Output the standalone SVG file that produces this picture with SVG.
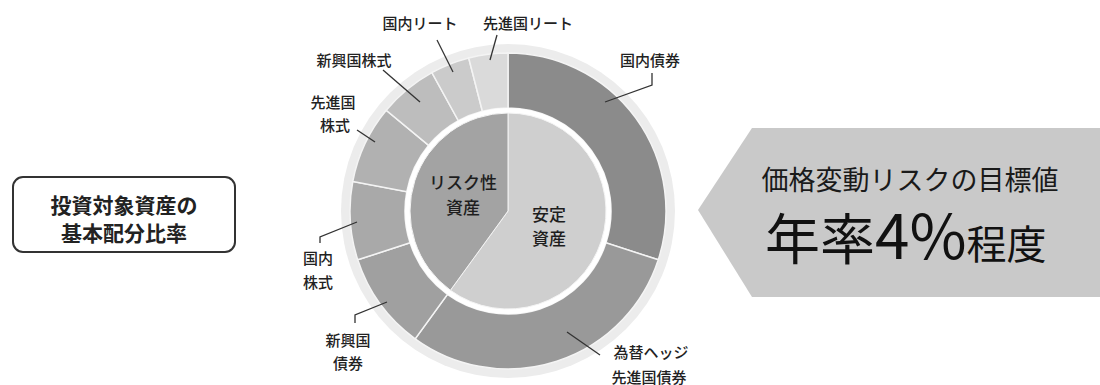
<svg xmlns="http://www.w3.org/2000/svg" width="1100" height="385" viewBox="0 0 1100 385">
<style>
text{font-family:"Noto Sans CJK JP","Noto Sans",sans-serif;fill:#222}
.lbl{font-size:15px;text-anchor:middle;font-weight:500}
.in{font-size:17px;text-anchor:middle;fill:#1e1e1e;font-weight:500}
.seg{stroke:#f4f4f4;stroke-width:1.5}
.ld{stroke:#333;stroke-width:1.3;fill:none}
</style>
<rect width="1100" height="385" fill="#fff"/>
<g id="box">
<rect x="13" y="177" width="222" height="75" rx="10" fill="#fff" stroke="#333" stroke-width="2"/>
<text x="124" y="213" style="font-size:21px;font-weight:bold;text-anchor:middle">投資対象資産の</text>
<text x="124" y="241" style="font-size:21px;font-weight:bold;text-anchor:middle">基本配分比率</text>
</g>
<g id="donut">
<circle cx="508" cy="211" r="167" fill="#ececec"/>
<path class="seg" fill="#8b8b8b" d="M508,53 A158,158 0 0 1 658.27,259.83 L605.96,242.83 A103,103 0 0 0 508,108 Z"/>
<path class="seg" fill="#999999" d="M658.27,259.83 A158,158 0 0 1 415.13,338.83 L447.46,294.33 A103,103 0 0 0 605.96,242.83 Z"/>
<path class="seg" fill="#a0a0a0" d="M415.13,338.83 A158,158 0 0 1 357.73,259.83 L410.04,242.83 A103,103 0 0 0 447.46,294.33 Z"/>
<path class="seg" fill="#a9a9a9" d="M357.73,259.83 A158,158 0 0 1 352.80,181.39 L406.82,191.70 A103,103 0 0 0 410.04,242.83 Z"/>
<path class="seg" fill="#b1b1b1" d="M352.80,181.39 A158,158 0 0 1 386.26,110.29 L428.64,145.35 A103,103 0 0 0 406.82,191.70 Z"/>
<path class="seg" fill="#bdbdbd" d="M386.26,110.29 A158,158 0 0 1 431.88,72.54 L458.38,120.74 A103,103 0 0 0 428.64,145.35 Z"/>
<path class="seg" fill="#cbcbcb" d="M431.88,72.54 A158,158 0 0 1 468.71,57.96 L482.38,111.24 A103,103 0 0 0 458.38,120.74 Z"/>
<path class="seg" fill="#dadada" d="M468.71,57.96 A158,158 0 0 1 508,53 L508,108 A103,103 0 0 0 482.38,111.24 Z"/>
<circle cx="508" cy="211" r="103" fill="#fff"/>
<path fill="#cfcfcf" stroke="#f4f4f4" stroke-width="1" d="M508,211 L508,113 A98,98 0 1 1 450.40,290.28 Z"/>
<path fill="#a3a3a3" stroke="#f4f4f4" stroke-width="1" d="M508,211 L450.40,290.28 A98,98 0 0 1 508,113 Z"/>
<text class="in" x="463" y="189">リスク性</text>
<text class="in" x="463" y="214">資産</text>
<text class="in" x="549" y="221">安定</text>
<text class="in" x="549" y="245">資産</text>
</g>
<g id="connectors">
<polyline class="ld" points="652,73 652,85 605,102"/>
<polyline class="ld" points="437,40 453,72"/>
<polyline class="ld" points="497,35 490,60"/>
<polyline class="ld" points="383,70 420,102"/>
<polyline class="ld" points="357,130 375,142"/>
<polyline class="ld" points="357,222 320,237 320,243"/>
<polyline class="ld" points="387,302 355,315 355,323"/>
<polyline class="ld" points="567,332 600,355"/>
</g>
<g id="labels">
<text class="lbl" x="420" y="29">国内リート</text>
<text class="lbl" x="528" y="29">先進国リート</text>
<text class="lbl" x="354" y="66">新興国株式</text>
<text class="lbl" x="333" y="108">先進国</text>
<text class="lbl" x="335" y="131">株式</text>
<text class="lbl" x="650" y="66">国内債券</text>
<text class="lbl" x="318" y="264">国内</text>
<text class="lbl" x="318" y="288">株式</text>
<text class="lbl" x="348" y="346">新興国</text>
<text class="lbl" x="348" y="369">債券</text>
<text class="lbl" x="651" y="358">為替ヘッジ</text>
<text class="lbl" x="649" y="383">先進国債券</text>
</g>
<g id="target">
<polygon points="698,210 752,128 1100,128 1100,297 752,297" fill="#c9c9c9"/>
<text x="910" y="190" style="font-size:27px;text-anchor:middle;fill:#1a1a1a">価格変動リスクの目標値</text>
<text x="765" y="259" style="fill:#111"><tspan style="font-size:55px">年率</tspan><tspan style="font-size:62px">4%</tspan><tspan style="font-size:40px">程度</tspan></text>
</g>
</svg>
